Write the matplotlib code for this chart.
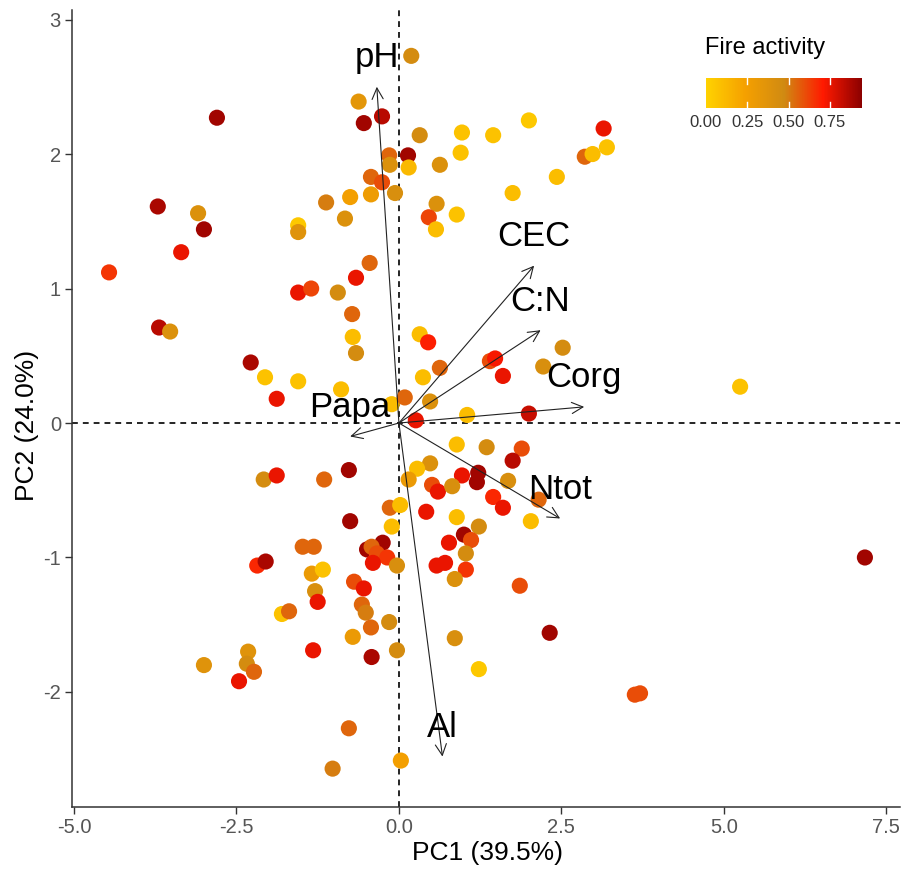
import matplotlib
matplotlib.use("Agg")
import matplotlib.pyplot as plt
from matplotlib.colors import LinearSegmentedColormap, Normalize
import numpy as np

plt.rcParams['font.family'] = ['Liberation Sans', 'DejaVu Sans']

# site scores (PC1, PC2) and fire activity
pc1 = [0.19, -0.62, -0.54, -0.26, -2.80, -0.15, -0.14, 0.14, 0.15, -0.43,
       -0.26, -0.06, -0.43, -0.75, -1.12, -0.83, -3.71, -3.09, -3.00, -1.55,
       -1.55, -3.35, -4.46, -0.45, -0.66, -1.55, -1.35, -0.94, 0.32, 0.97,
       1.45, 2.00, 3.15, 0.63, 0.95, 2.43, 1.75, 0.58, 0.89, 0.46,
       0.57, 2.86, 2.98, 3.20, -0.72, -0.71, -0.66, -3.69, -3.52, -2.28,
       -2.06, -1.55, -0.89, -1.88, -0.11, 0.09, 0.32, 0.45, 0.63, 0.37,
       0.48, 0.26, 1.05, 1.40, 1.48, 1.60, 2.52, 2.22, 2.00, 5.25,
       0.89, 1.35, 1.89, 1.75, 0.48, 0.28, 0.15, 0.97, 1.22, 1.20,
       0.51, 0.60, 0.82, 1.68, 1.45, 1.60, 2.15, -0.14, 0.02, 0.42,
       0.89, 2.03, 1.23, -0.11, -0.25, 1.00, 1.11, 0.77, 1.03, 7.17,
       -0.77, -2.08, -1.88, -1.15, -0.75, -0.49, -0.42, -0.34, -0.18, -0.40,
       -0.03, 0.58, 0.71, 1.03, 0.86, 1.86, -0.69, -0.54, -1.48, -1.31,
       -2.18, -2.05, -1.34, -1.17, -1.29, -1.25, -1.80, -1.69, -0.57, -0.51,
       -0.15, -0.43, -0.71, -1.32, -0.42, -0.03, -2.32, -2.34, -2.23, -2.46,
       -3.00, 2.32, 0.86, 1.23, 3.63, 3.71, -0.77, -1.02, 0.03]
pc2 = [2.73, 2.39, 2.23, 2.28, 2.27, 1.99, 1.92, 1.99, 1.90, 1.83,
       1.79, 1.71, 1.70, 1.68, 1.64, 1.52, 1.61, 1.56, 1.44, 1.47,
       1.42, 1.27, 1.12, 1.19, 1.08, 0.97, 1.00, 0.97, 2.14, 2.16,
       2.14, 2.25, 2.19, 1.92, 2.01, 1.83, 1.71, 1.63, 1.55, 1.53,
       1.44, 1.98, 2.00, 2.05, 0.81, 0.64, 0.52, 0.71, 0.68, 0.45,
       0.34, 0.31, 0.25, 0.18, 0.14, 0.19, 0.66, 0.60, 0.41, 0.34,
       0.16, 0.02, 0.06, 0.46, 0.48, 0.35, 0.56, 0.42, 0.07, 0.27,
       -0.16, -0.18, -0.19, -0.28, -0.30, -0.34, -0.42, -0.39, -0.37, -0.44,
       -0.46, -0.51, -0.47, -0.43, -0.55, -0.63, -0.57, -0.63, -0.61, -0.66,
       -0.70, -0.73, -0.77, -0.77, -0.89, -0.83, -0.87, -0.89, -0.97, -1.00,
       -0.35, -0.42, -0.39, -0.42, -0.73, -0.94, -0.92, -0.97, -1.00, -1.04,
       -1.06, -1.06, -1.04, -1.09, -1.16, -1.21, -1.18, -1.23, -0.92, -0.92,
       -1.06, -1.03, -1.12, -1.09, -1.25, -1.33, -1.42, -1.40, -1.35, -1.41,
       -1.48, -1.52, -1.59, -1.69, -1.74, -1.69, -1.70, -1.79, -1.85, -1.92,
       -1.80, -1.56, -1.60, -1.83, -2.02, -2.01, -2.27, -2.57, -2.51]
fire = [0.45, 0.35, 0.90, 0.85, 0.90, 0.55, 0.40, 0.90, 0.12, 0.55,
        0.60, 0.42, 0.28, 0.25, 0.50, 0.40, 0.88, 0.40, 0.90, 0.05,
        0.38, 0.75, 0.65, 0.55, 0.75, 0.75, 0.62, 0.45, 0.45, 0.08,
        0.08, 0.05, 0.75, 0.40, 0.08, 0.10, 0.10, 0.40, 0.08, 0.62,
        0.10, 0.55, 0.10, 0.08, 0.55, 0.10, 0.45, 0.85, 0.40, 0.88,
        0.08, 0.08, 0.10, 0.75, 0.10, 0.55, 0.10, 0.70, 0.55, 0.10,
        0.40, 0.75, 0.10, 0.60, 0.72, 0.75, 0.45, 0.42, 0.82, 0.08,
        0.10, 0.45, 0.60, 0.85, 0.40, 0.10, 0.30, 0.75, 0.90, 0.90,
        0.60, 0.75, 0.42, 0.42, 0.68, 0.75, 0.55, 0.55, 0.10, 0.75,
        0.10, 0.10, 0.45, 0.10, 0.90, 0.90, 0.60, 0.75, 0.45, 0.90,
        0.90, 0.45, 0.75, 0.55, 0.90, 0.90, 0.55, 0.60, 0.65, 0.75,
        0.42, 0.75, 0.75, 0.65, 0.40, 0.60, 0.60, 0.75, 0.55, 0.55,
        0.68, 0.88, 0.30, 0.08, 0.42, 0.75, 0.08, 0.55, 0.55, 0.50,
        0.45, 0.55, 0.30, 0.75, 0.88, 0.45, 0.38, 0.45, 0.55, 0.75,
        0.38, 0.90, 0.42, 0.05, 0.60, 0.60, 0.55, 0.50, 0.25]

# variable loadings (arrow tips)
var_names = ["pH", "CEC", "C:N", "Corg", "Ntot", "Al", "Papa"]
load_pc1 = [-0.34, 2.08, 2.18, 2.85, 2.48, 0.67, -0.75]
load_pc2 = [2.50, 1.17, 0.69, 0.12, -0.71, -2.48, -0.10]

fire_max = 0.945
cmap = LinearSegmentedColormap.from_list(
    "fire", ["#FFD200", "#F5A000", "#D08A12", "#FF1A00", "#8B0000"])
norm = Normalize(vmin=0, vmax=fire_max)

fig = plt.figure(figsize=(9.01, 8.71), dpi=100)
ax = fig.add_axes([72 / 901, 1 - 806.7 / 871, 828 / 901, 796.7 / 871])

ax.axhline(0, color="black", lw=1.2, ls=(0, (3.5, 3)), zorder=1)
ax.axvline(0, color="black", lw=1.2, ls=(0, (3.5, 3)), zorder=1)

sc = ax.scatter(pc1, pc2, c=fire, cmap=cmap, norm=norm, s=135,
                edgecolors="none", zorder=2)

for name, lx, ly in zip(var_names, load_pc1, load_pc2):
    ax.annotate("", xy=(lx, ly), xytext=(0, 0),
                arrowprops=dict(arrowstyle="->,head_length=0.4,head_width=0.2",
                                mutation_scale=20, lw=0.8, color="#222222",
                                shrinkA=0, shrinkB=0), zorder=3)
    ax.annotate(name, xy=(lx, ly), xytext=(0, 14), textcoords="offset points",
                ha="center", va="baseline", fontsize=25, color="black",
                zorder=4)

ax.set_xlim(-5.03, 7.71)
ax.set_ylim(-2.853, 3.071)
ax.set_xticks([-5.0, -2.5, 0.0, 2.5, 5.0, 7.5])
ax.set_xticklabels(["-5.0", "-2.5", "0.0", "2.5", "5.0", "7.5"])
ax.set_yticks([-2, -1, 0, 1, 2, 3])
ax.set_yticklabels(["-2", "-1", "0", "1", "2", "3"])
for s in ["top", "right"]:
    ax.spines[s].set_visible(False)
for s in ["left", "bottom"]:
    ax.spines[s].set_color("#333333")
    ax.spines[s].set_linewidth(1.1)
ax.tick_params(length=5, width=1.0, color="#333333", labelsize=14.5,
               labelcolor="#555555", pad=3)

fig.text(487 / 901, 1 - 853 / 871, "PC1 (39.5%)", ha="center", va="center",
         fontsize=19)
fig.text(27 / 901, 1 - 425 / 871, "PC2 (24.0%)", ha="center", va="center",
         rotation=90, fontsize=19)

# legend colourbar
cax = fig.add_axes([706 / 901, 1 - 108 / 871, 156 / 901, 30 / 871])
cb = fig.colorbar(sc, cax=cax, orientation="horizontal")
cb.outline.set_visible(False)
cb.set_ticks([0, 0.25, 0.5, 0.75])
cb.set_ticklabels(["0.00", "0.25", "0.50", "0.75"])
cax.tick_params(length=0, labelsize=12, labelcolor="#333333", pad=5)
for t in [0.25, 0.5, 0.75]:
    cax.axvline(t, ymin=0, ymax=0.2, color="white", lw=1)
    cax.axvline(t, ymin=0.8, ymax=1, color="white", lw=1)
fig.text(705 / 901, 1 - 48 / 871, "Fire activity", ha="left", va="center",
         fontsize=17)

fig.savefig("out.png", dpi=100)
